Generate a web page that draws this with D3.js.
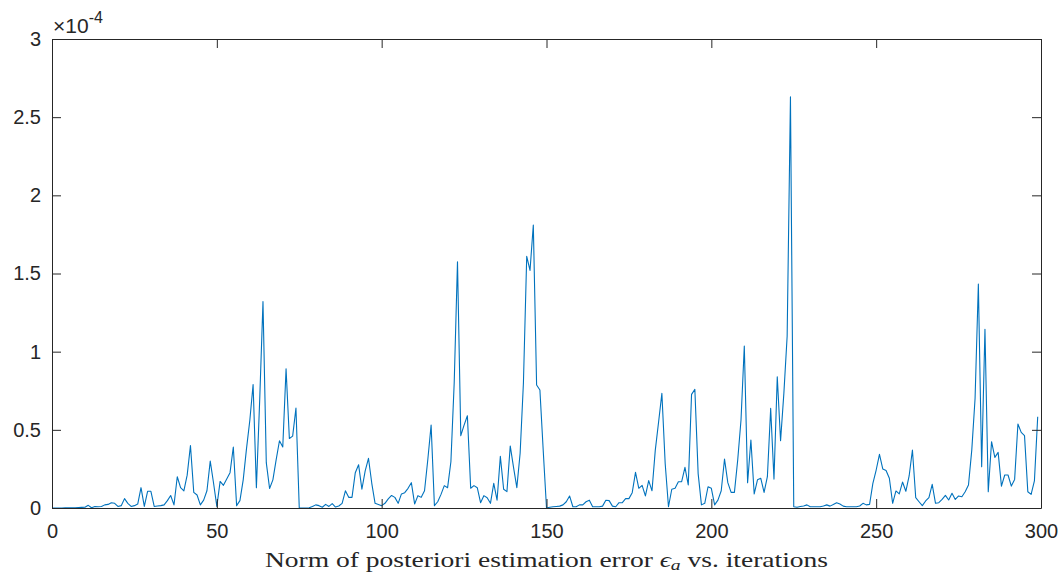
<!DOCTYPE html>
<html>
<head>
<meta charset="utf-8">
<script src="https://cdn.jsdelivr.net/npm/d3@7"></script>
<style>
  body { margin: 0; background: #fff; }
  svg { display: block; }
</style>
</head>
<body>
<script>
"use strict";

// norm of a-posteriori error per iteration, in units of 1e-4
var errNorm = [
  0, 0, 0, 0, 0.001, 0.001, 0.002, 0.002, 0.003, 0.004,
  0.005, 0.017, 0.002, 0.01, 0.008, 0.01, 0.02, 0.023, 0.034, 0.03,
  0.01, 0.015, 0.06, 0.03, 0.01, 0.015, 0.025, 0.13, 0.01, 0.107,
  0.107, 0.01, 0.013, 0.015, 0.02, 0.047, 0.08, 0.02, 0.2, 0.13,
  0.11, 0.21, 0.40, 0.10, 0.083, 0.02, 0.05, 0.11, 0.30, 0.16,
  0.01, 0.17, 0.145, 0.185, 0.226, 0.39, 0.015, 0.047, 0.18, 0.38,
  0.56, 0.79, 0.13, 0.69, 1.32, 0.29, 0.125, 0.18, 0.31, 0.43,
  0.39, 0.89, 0.445, 0.46, 0.64, 0, 0, 0, 0.002, 0.01,
  0.02, 0.015, 0.005, 0.023, 0.01, 0.028, 0.006, 0.013, 0.03, 0.11,
  0.068, 0.068, 0.226, 0.277, 0.12, 0.237, 0.318, 0.158, 0.03, 0.023,
  0.015, 0.03, 0.058, 0.08, 0.068, 0.03, 0.09, 0.098, 0.126, 0.162,
  0.026, 0.079, 0.068, 0.11, 0.31, 0.53, 0.015, 0.04, 0.087, 0.143,
  0.13, 0.296, 0.80, 1.575, 0.463, 0.53, 0.59, 0.126, 0.143, 0.13,
  0.034, 0.079, 0.066, 0.03, 0.158, 0.05, 0.33, 0.12, 0.105, 0.397,
  0.26, 0.13, 0.35, 0.80, 1.61, 1.52, 1.81, 0.787, 0.755, 0.37,
  0, 0.005, 0.008, 0.01, 0.012, 0.02, 0.04, 0.077, 0.008, 0.008,
  0.02, 0.02, 0.04, 0.05, 0.008, 0.008, 0.008, 0.012, 0.05, 0.047,
  0.012, 0.008, 0.034, 0.034, 0.06, 0.06, 0.098, 0.228, 0.126, 0.145,
  0.077, 0.175, 0.11, 0.37, 0.55, 0.733, 0.285, 0.008, 0.12, 0.126,
  0.168, 0.168, 0.26, 0.147, 0.727, 0.759, 0.22, 0.02, 0.03, 0.136,
  0.126, 0.02, 0.05, 0.11, 0.313, 0.162, 0.1, 0.1, 0.307, 0.563,
  1.036, 0.162, 0.435, 0.09, 0.18, 0.19, 0.1, 0.2, 0.637, 0.185,
  0.84, 0.43, 0.733, 1.1, 2.63, 0.008, 0.005, 0.01, 0.013, 0.02,
  0.008, 0.008, 0.008, 0.008, 0.013, 0.02, 0.012, 0.022, 0.033, 0.025,
  0.012, 0.008, 0.008, 0.008, 0.008, 0.013, 0.03, 0.02, 0.023, 0.158,
  0.243, 0.343, 0.25, 0.24, 0.19, 0.03, 0.109, 0.09, 0.166, 0.107,
  0.205, 0.371, 0.066, 0.04, 0.015, 0.045, 0.066, 0.151, 0.03, 0.034,
  0.055, 0.081, 0.051, 0.094, 0.055, 0.077, 0.072, 0.104, 0.147, 0.37,
  0.7, 1.433, 0.264, 1.143, 0.104, 0.424, 0.324, 0.356, 0.14, 0.211,
  0.211, 0.14, 0.183, 0.537, 0.484, 0.463, 0.104, 0.087, 0.173, 0.584
];

var xTicks = [0, 50, 100, 150, 200, 250, 300];
var yTicks = [0, 0.5, 1, 1.5, 2, 2.5, 3];
var yTickLabels = ["0", "0.5", "1", "1.5", "2", "2.5", "3"];
var xLabel = "Norm of posteriori estimation error ";
var exponent = "-4";

var W = 1063, H = 573;
var m = {left: 52, right: 22, top: 39, bottom: 65};
var iw = W - m.left - m.right, ih = H - m.top - m.bottom;
var axisCol = "#262626";
var sans = "'Liberation Sans', Arial, Helvetica, sans-serif";

var svg = d3.select("body").append("svg").attr("width", W).attr("height", H);
var g = svg.append("g").attr("transform", "translate(" + m.left + "," + m.top + ")");

var x = d3.scaleLinear().domain([0, 300]).range([0, iw]);
var y = d3.scaleLinear().domain([0, 3]).range([ih, 0]);

// series line
var line = d3.line()
    .x(function(d, i){ return x(i); })
    .y(function(d){ return y(d); });

g.append("path")
    .datum(errNorm)
    .attr("fill", "none")
    .attr("stroke", "#0072BD")
    .attr("stroke-width", 1.1)
    .attr("stroke-linejoin", "round")
    .attr("d", line);

// axes (MATLAB style: ticks inside, box on)
var tl = 9;
function styleAxis(sel){
    sel.select(".domain").attr("stroke", axisCol).attr("stroke-width", 1);
    sel.selectAll(".tick line").attr("stroke", axisCol).attr("stroke-width", 1);
    sel.selectAll(".tick text").attr("fill", axisCol)
        .attr("font-family", sans).attr("font-size", 20)
        .style("font-family", sans).style("font-size", "20px");
}

var xAxis = g.append("g").attr("transform", "translate(0," + ih + ")")
    .call(d3.axisBottom(x).tickValues(xTicks).tickSizeInner(-tl).tickSizeOuter(0).tickPadding(16));
styleAxis(xAxis);

var xTop = g.append("g")
    .call(d3.axisTop(x).tickValues(xTicks).tickSizeInner(-tl).tickSizeOuter(0).tickFormat(""));
styleAxis(xTop);

var yAxis = g.append("g")
    .call(d3.axisLeft(y).tickValues(yTicks).tickSizeInner(-tl).tickSizeOuter(0).tickPadding(11)
        .tickFormat(function(d, i){ return yTickLabels[i]; }));
styleAxis(yAxis);

var yRight = g.append("g").attr("transform", "translate(" + iw + ",0)")
    .call(d3.axisRight(y).tickValues(yTicks).tickSizeInner(-tl).tickSizeOuter(0).tickFormat(""));
styleAxis(yRight);

// exponent label
var ex = svg.append("text")
    .attr("x", m.left + 1)
    .attr("y", m.top - 6)
    .attr("fill", axisCol)
    .style("font-family", sans)
    .style("font-size", "21px");
ex.append("tspan").text("\u00d710");
ex.append("tspan").attr("dy", -10).style("font-size", "16px").text(exponent);

// x label (LaTeX-like serif)
var lab = svg.append("text")
    .attr("x", 265)
    .attr("y", 567)
    .attr("fill", axisCol)
    .attr("textLength", 563)
    .attr("lengthAdjust", "spacingAndGlyphs")
    .style("font-family", "'Liberation Serif', 'DejaVu Serif', serif")
    .style("font-size", "21px");
lab.append("tspan").text(xLabel);
lab.append("tspan").style("font-style", "italic").text("\u03f5");
lab.append("tspan").attr("dy", 3).style("font-style", "italic").style("font-size", "15px").text("a");
lab.append("tspan").attr("dy", -3).text(" vs. iterations");
</script>
</body>
</html>
